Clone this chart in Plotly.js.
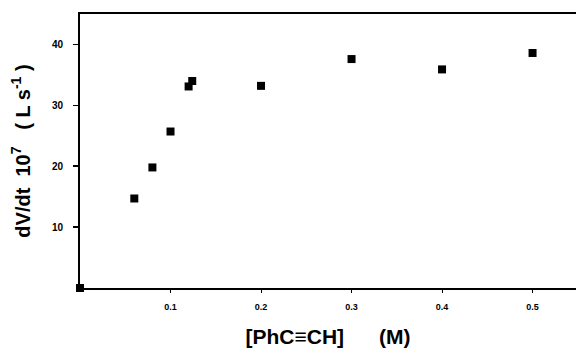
<!DOCTYPE html>
<html>
<head>
<meta charset="utf-8">
<script src="https://cdn.plot.ly/plotly-3.0.1.min.js"></script>
<style>html,body{margin:0;padding:0;background:#fff;}#chart{width:576px;height:350px;}</style>
</head>
<body>
<div id="chart"></div>
<script>
var concentration = [0, 0.06, 0.08, 0.10, 0.12, 0.124, 0.20, 0.30, 0.40, 0.50];
var rate = [0, 14.7, 19.8, 25.7, 33.1, 34.0, 33.2, 37.6, 35.9, 38.6];
var xTickVals = [0.1, 0.2, 0.3, 0.4, 0.5];
var xTickText = ['0.1', '0.2', '0.3', '0.4', '0.5'];
var yTickVals = [10, 20, 30, 40];
var yTickText = ['10', '20', '30', '40'];

var trace = {
  x: concentration, y: rate, type: 'scatter', mode: 'markers',
  marker: {symbol: 'square', size: 8, color: '#000'},
  cliponaxis: false, hoverinfo: 'none'
};
var fontFam = 'Liberation Sans, Arial, sans-serif';
var layout = {
  width: 576, height: 350,
  margin: {l: 80, r: 0, t: 14, b: 62},
  paper_bgcolor: '#fff', plot_bgcolor: '#fff',
  showlegend: false,
  font: {family: fontFam, color: '#000'},
  xaxis: {
    range: [0, 0.548], showgrid: false, zeroline: false,
    showline: true, linecolor: '#000', linewidth: 2, mirror: true,
    ticks: 'outside', ticklen: 3, tickwidth: 1, tickcolor: '#000',
    tickvals: xTickVals, ticktext: xTickText, ticklabelstandoff: 6,
    tickfont: {family: fontFam, size: 9, weight: 'bold', color: '#000'},
    title: {text: '[PhC≡CH]      (M)', font: {family: fontFam, size: 21, weight: 'bold', color: '#000'}, standoff: 19}
  },
  yaxis: {
    range: [0, 45], showgrid: false, zeroline: false,
    showline: true, linecolor: '#000', linewidth: 2,
    ticks: 'outside', ticklen: 5, tickwidth: 1.5, tickcolor: '#000',
    tickvals: yTickVals, ticktext: yTickText, ticklabelstandoff: 8,
    tickfont: {family: fontFam, size: 10, weight: 'bold', color: '#000'},
    title: {text: 'dV/dt  10<sup>7</sup>   ( L s<sup>-1</sup> )', font: {family: fontFam, size: 20, weight: 'bold', color: '#000'}, standoff: 16}
  }
};
Plotly.newPlot('chart', [trace], layout, {staticPlot: true, displayModeBar: false});
</script>
</body>
</html>
